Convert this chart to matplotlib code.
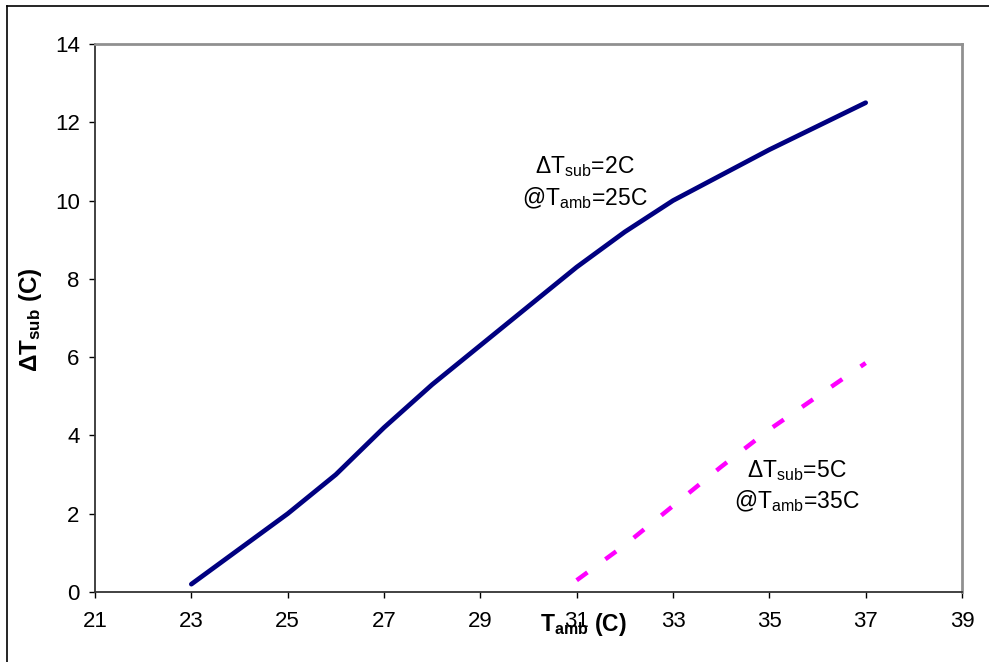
import matplotlib
matplotlib.use("Agg")
import matplotlib.pyplot as plt
from matplotlib.lines import Line2D

plt.rcParams['font.family'] = ['Liberation Sans', 'DejaVu Sans']
plt.rcParams['mathtext.fontset'] = 'custom'
plt.rcParams['mathtext.rm'] = 'Liberation Sans'
plt.rcParams['mathtext.it'] = 'Liberation Sans'
plt.rcParams['mathtext.bf'] = 'Liberation Sans:bold'

# Data
t_amb_a = [23, 24, 25, 26, 27, 28, 29, 30, 31, 32, 33, 34, 35, 36, 37]
dt_sub_a = [0.2, 1.1, 2.0, 3.0, 4.2, 5.3, 6.3, 7.3, 8.3, 9.2, 10.0, 10.65, 11.3, 11.9, 12.5]
t_amb_b = [31, 32, 33, 34, 35, 36, 37]
dt_sub_b = [0.3, 1.2, 2.2, 3.2, 4.15, 5.0, 5.85]
x_ticks = [21, 23, 25, 27, 29, 31, 33, 35, 37, 39]
y_ticks = [0, 2, 4, 6, 8, 10, 12, 14]

W, H = 989, 662
fig = plt.figure(figsize=(W / 100, H / 100), dpi=100)
ax = fig.add_axes([95 / W, 1 - 592 / H, (962 - 95) / W, (592 - 44) / H])

ax.plot(t_amb_a, dt_sub_a, color='#000080', lw=3.4, solid_capstyle='round',
        solid_joinstyle='round')
ax.plot(t_amb_b, dt_sub_b, color='#FF00FF', lw=3.2, dashes=(3.0, 5.0),
        dash_capstyle='butt')

ax.set_xlim(21, 39)
ax.set_ylim(0, 14)
ax.set_xticks(x_ticks)
ax.set_yticks(y_ticks)
ax.tick_params(axis='both', direction='out', length=4.5, width=1, colors='black',
               labelsize=16)
ax.tick_params(axis='x', pad=9.5)
ax.tick_params(axis='y', pad=6.5)

for s in ['left', 'bottom']:
    ax.spines[s].set_color('#333333')
    ax.spines[s].set_linewidth(1.3)
for s in ['top', 'right']:
    ax.spines[s].set_color('#909090')
    ax.spines[s].set_linewidth(2.0)

fs_ann = 16.5
ax.text(31.16, 10.86, r'$\mathregular{\Delta T_{sub}}$=2C', ha='center', va='center',
        fontsize=fs_ann)
ax.text(31.17, 10.07, r'@T$_{\mathregular{amb}}$=25C', ha='center', va='center',
        fontsize=fs_ann)
ax.text(35.56, 3.09, r'$\mathregular{\Delta T_{sub}}$=5C', ha='center', va='center',
        fontsize=fs_ann)
ax.text(35.57, 2.32, r'@T$_{\mathregular{amb}}$=35C', ha='center', va='center',
        fontsize=fs_ann)

fig.text(31 / W, 1 - 320 / H, r'$\mathbf{\Delta T_{sub}}$ (C)', rotation=90,
         ha='center', va='center', fontsize=17.5, fontweight='bold')
fig.text(583 / W, 1 - 624 / H, r'$\mathbf{T_{amb}}$ (C)', ha='center',
         va='center', fontsize=16.5, fontweight='bold')

# outer border (left and top)
fig.add_artist(Line2D([7 / W, 7 / W], [0, 1 - 6 / H], transform=fig.transFigure,
                      color='black', lw=1.2))
fig.add_artist(Line2D([7 / W, 1], [1 - 6 / H, 1 - 6 / H], transform=fig.transFigure,
                      color='black', lw=1.2))

fig.savefig('out.png', dpi=100)
